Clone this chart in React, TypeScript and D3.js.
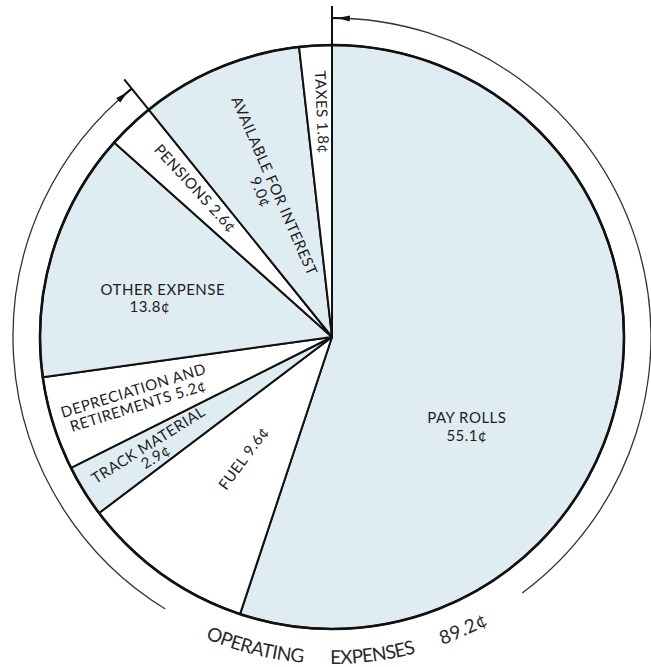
import React from "react";
import * as d3 from "d3";

// ---- data ----
const categories = [
  "PAY ROLLS",
  "FUEL",
  "TRACK MATERIAL",
  "DEPRECIATION AND RETIREMENTS",
  "OTHER EXPENSE",
  "PENSIONS",
  "AVAILABLE FOR INTEREST",
  "TAXES",
];
const values = [55.1, 9.6, 2.9, 5.2, 13.8, 2.6, 9.0, 1.8];
const labelLines = [
  ["PAY ROLLS", "55.1¢"],
  ["FUEL 9.6¢"],
  ["TRACK MATERIAL", "2.9¢"],
  ["DEPRECIATION AND", "RETIREMENTS 5.2¢"],
  ["OTHER EXPENSE", "13.8¢"],
  ["PENSIONS 2.6¢"],
  ["AVAILABLE FOR INTEREST", "9.0¢"],
  ["TAXES 1.8¢"],
];
const shaded = [true, false, true, false, true, false, true, false];
const operatingCount = 6;
const groupWords = ["OPERATING", "EXPENSES", "89.2¢"];

// ---- layout / style ----
const W = 651;
const H = 667;
const CX = 332;
const CY = 337;
const R = 292;
const R_OUT = 319;
const R_TEXT = 327;
const FILL = "#dfecf2";
const FONT = "Lato, 'Open Sans', sans-serif";

// per-label placement: radius, angle offset from slice middle (deg), radial rotation?, line gap, per-line dx
const labelLayout = [
  { r: 162, off: 24.5, radial: false, gap: 18, dx: [0, 0] },
  { r: 150, off: 0.5, radial: true, gap: 0, dx: [0] },
  { r: 213, off: -0.4, radial: true, gap: 14, dx: [0, 0] },
  { r: 205.6, off: 0, radial: true, gap: 16, dx: [0, 0] },
  { r: 180, off: -4.3, radial: false, gap: 17, dx: [6.5, -6.5] },
  { r: 202, off: 1, radial: true, gap: 0, dx: [0] },
  { r: 161.5, off: -0.8, radial: true, gap: 15, dx: [0, 0] },
  { r: 225, off: 0.7, radial: true, gap: 0, dx: [0] },
];
// outer bracket arc gap (degrees, clockwise from top)
const gapStart = 143.4;
const gapEnd = 211.5;
// word positions along the bottom curved label (deg start, deg end)
const wordSpans = [
  [202.8, 185.0],
  [180.3, 165.1],
  [160.3, 151.4],
];

const rad = (d: number) => (d * Math.PI) / 180;
const polar = (theta: number, r: number): [number, number] => [
  CX + r * Math.sin(theta),
  CY - r * Math.cos(theta),
];

export default function App() {
  const pie = d3
    .pie<number>()
    .sort(null)
    .value((d) => d)
    .startAngle(0)
    .endAngle(2 * Math.PI);
  const arcs = pie(values);
  const arcGen = d3.arc<d3.PieArcDatum<number>>().innerRadius(0).outerRadius(R);

  const total = d3.sum(values);
  const opEnd = (d3.sum(values.slice(0, operatingCount)) / total) * 2 * Math.PI;

  // outer bracket arcs
  const bracket1 = d3.path();
  {
    const [x, y] = polar(0, R_OUT);
    bracket1.moveTo(x, y);
    bracket1.arc(CX, CY, R_OUT, -Math.PI / 2, rad(gapStart) - Math.PI / 2, false);
  }
  const bracket2 = d3.path();
  {
    const [x, y] = polar(rad(gapEnd), R_OUT);
    bracket2.moveTo(x, y);
    bracket2.arc(CX, CY, R_OUT, rad(gapEnd) - Math.PI / 2, opEnd - Math.PI / 2, false);
  }

  // ticks
  const tick = (theta: number) => {
    const [x1, y1] = polar(theta, R);
    const [x2, y2] = polar(theta, 331);
    return { x1, y1, x2, y2 };
  };
  const t0 = tick(0);
  const t1 = tick(opEnd);

  // arrowheads: tip near tick, pointing toward it
  const arrow = (tipTheta: number, dir: number) => {
    const baseTheta = tipTheta + dir * rad(2.2);
    const tip = polar(tipTheta, R_OUT);
    const b1 = polar(baseTheta, R_OUT - 3);
    const b2 = polar(baseTheta, R_OUT + 3);
    return `M${tip[0]},${tip[1]}L${b1[0]},${b1[1]}L${b2[0]},${b2[1]}Z`;
  };
  const arrowA = arrow(rad(1.0), 1);
  const arrowB = arrow(opEnd - rad(1.0), -1);
  const stubA = d3.path();
  stubA.moveTo(...polar(0, R_OUT));
  stubA.arc(CX, CY, R_OUT, -Math.PI / 2, rad(3.2) - Math.PI / 2, false);
  const stubB = d3.path();
  stubB.moveTo(...polar(opEnd - rad(3.2), R_OUT));
  stubB.arc(CX, CY, R_OUT, opEnd - rad(3.2) - Math.PI / 2, opEnd - Math.PI / 2, false);

  // bottom text path
  const textPaths = wordSpans.map(([a, b]) => {
    const p = d3.path();
    p.moveTo(...polar(rad(a), R_TEXT));
    p.arc(CX, CY, R_TEXT, rad(a) - Math.PI / 2, rad(b) - Math.PI / 2, true);
    return { d: p.toString(), len: rad(a - b) * R_TEXT };
  });

  return (
    <svg
      width={W}
      height={H}
      viewBox={`0 0 ${W} ${H}`}
      style={{ position: "absolute", left: 0, top: 0, background: "#fff" }}
    >
      <defs>
        {textPaths.map((t, i) => (
          <path key={i} id={`tp${i}`} d={t.d} fill="none" />
        ))}
      </defs>
      <g>
        {arcs.map((a, i) => (
          <path
            key={categories[i]}
            d={arcGen(a) || ""}
            transform={`translate(${CX},${CY})`}
            fill={shaded[i] ? FILL : "#ffffff"}
            stroke="#111"
            strokeWidth={2}
            strokeLinejoin="round"
          />
        ))}
        <circle cx={CX} cy={CY} r={R} fill="none" stroke="#111" strokeWidth={2.6} />
      </g>

      {/* bracket */}
      <g fill="none" stroke="#333" strokeWidth={1.3}>
        <path d={bracket1.toString()} />
        <path d={bracket2.toString()} />
        <path d={stubA.toString()} strokeWidth={2.2} stroke="#111" />
        <path d={stubB.toString()} strokeWidth={2.2} stroke="#111" />
        <line {...t0} stroke="#111" strokeWidth={2} />
        <line {...t1} stroke="#111" strokeWidth={2} />
      </g>
      <path d={arrowA} fill="#111" />
      <path d={arrowB} fill="#111" />

      {/* labels */}
      <g
        fontFamily={FONT}
        fontSize={15}
        fontWeight={400}
        letterSpacing={0.5}
        fill="#1e1e1e"
        textAnchor="middle"
      >
        {arcs.map((a, i) => {
          const L = labelLayout[i];
          const mid = (a.startAngle + a.endAngle) / 2 + rad(L.off);
          const [x, y] = polar(mid, L.r);
          const rot = L.radial ? (mid * 180) / Math.PI - 270 : 0;
          const lines = labelLines[i];
          const n = lines.length;
          return (
            <g key={categories[i]} transform={`translate(${x},${y}) rotate(${rot})`}>
              {lines.map((ln, j) => (
                <text key={j} x={L.dx[j] || 0} y={(j - (n - 1) / 2) * L.gap} dy="0.36em">
                  {ln}
                </text>
              ))}
            </g>
          );
        })}
      </g>

      {/* curved group label */}
      <g fontFamily={FONT} fontSize={19} fontWeight={400} fill="#2a2a2a">
        {groupWords.map((w, i) => (
          <text key={w}>
            <textPath href={`#tp${i}`} textLength={textPaths[i].len} lengthAdjust="spacing">
              {w}
            </textPath>
          </text>
        ))}
      </g>
    </svg>
  );
}
